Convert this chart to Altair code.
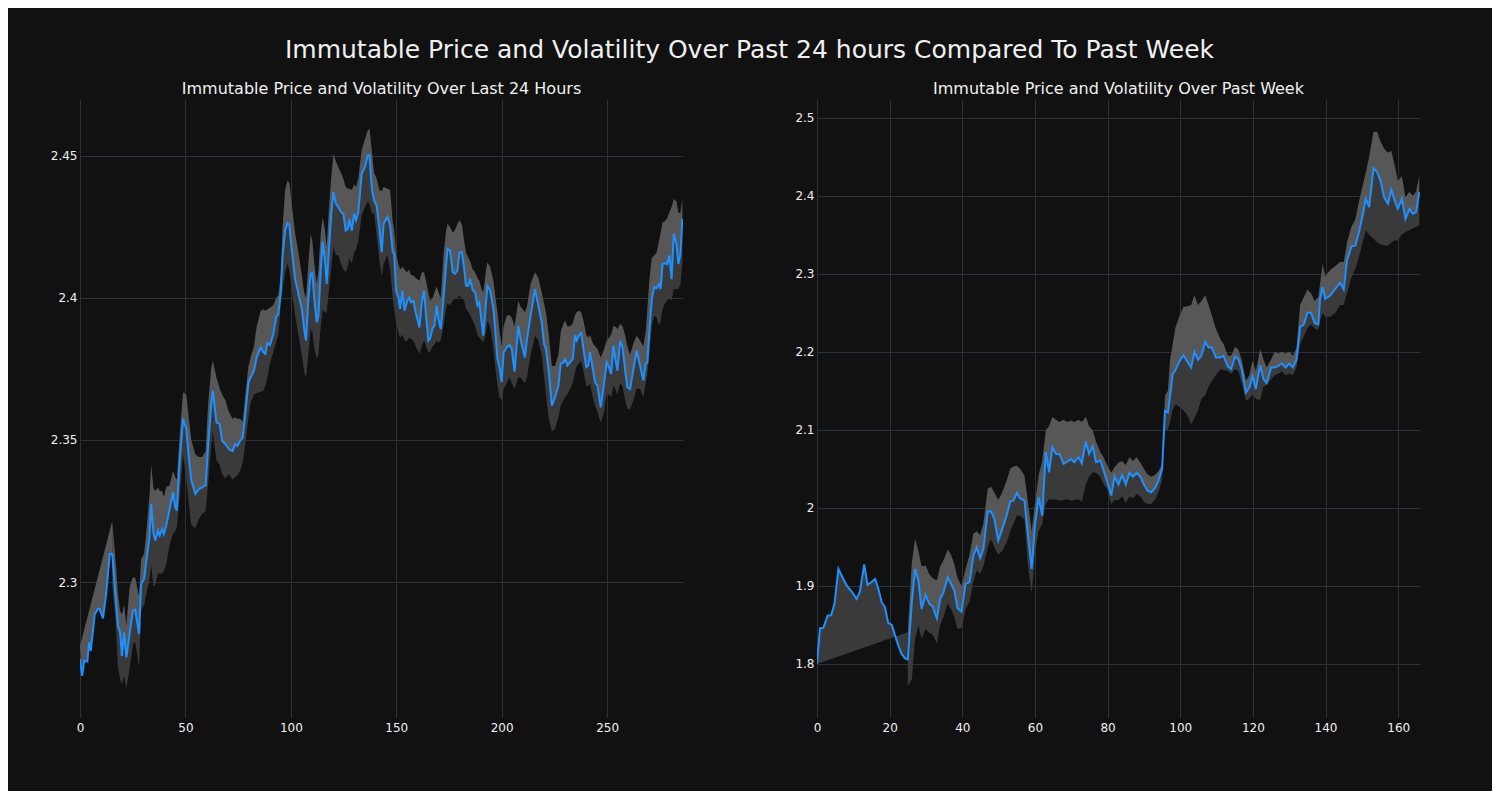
import altair as alt
import pandas as pd

# ---------------- Left panel: last 24 hours ----------------
L_X = [0, 1, 2, 3.5, 4.3, 5.1, 7, 8.5, 9.3, 10.9,
       12.5, 14.1, 15.3, 16.8, 18, 19, 19.9, 20.9, 22, 23.6,
       25.1, 26.2, 28, 29, 30.4, 31.5, 33, 33.8, 34.8, 35.7,
       37, 37.8, 38.9, 39.8, 40.9, 42.5, 44.1, 45.2, 45.9, 47.3,
       48.9, 50.4, 51.7, 52.8, 54.7, 56.3, 57.9, 59.6, 60.7, 62.2,
       63, 64.7, 66.3, 67.4, 69, 70.5, 72.4, 73.5, 74.6, 75.9,
       77.2, 78.3, 79.9, 80.9, 82.5, 83.8, 85.7, 86.9, 87.9, 88.9,
       90.1, 91.7, 93, 94.1, 95.2, 96.1, 97.3, 98.4, 99.3, 100.4,
       102, 103.6, 105.2, 106.3, 107.2, 108.3, 109.4, 110.2, 111, 112.3,
       113.1, 114.2, 115.1, 116.2, 117, 118.1, 119.1, 120.2, 121.4, 122.5,
       123.8, 124.9, 126, 127, 127.8, 128.9, 130, 130.9, 132, 133.6,
       135.2, 136.5, 137.3, 138.4, 139.5, 140.7, 142, 143.1, 144, 145.8,
       147.1, 148.3, 149, 149.9, 151, 151.8, 152.9, 153.9, 155, 156.1,
       157, 158.1, 159.2, 161, 162.1, 163.2, 164.1, 165.2, 166, 167.3,
       168.1, 169.2, 170, 171.1, 172.4, 173.5, 174.3, 175.5, 176.8, 177.9,
       179, 180, 181.1, 182.2, 183.1, 184.2, 185, 186.3, 187.4, 188.5,
       189.4, 190.5, 191.3, 192.6, 193.2, 194.5, 196.1, 196.9, 198, 199,
       200, 200.9, 202.4, 203.7, 204.8, 206.1, 207.9, 208.9, 211, 212,
       213.7, 215.8, 217.4, 219, 220.1, 221, 222.2, 223.8, 225.3, 226.9,
       228, 229.3, 230.1, 231.2, 232.4, 233.7, 234.8, 235.6, 236.7, 237.7,
       238.8, 240.1, 241.1, 241.9, 243.2, 244.3, 245.4, 247, 248.6, 249.8,
       250.9, 251.9, 253, 253.8, 254.9, 256.2, 257.3, 258.5, 259.6, 260.9,
       262.5, 264, 265.6, 267.2, 268.3, 269.1, 270, 271.2, 272.3, 273.5,
       274.6, 275.4, 276.3, 277.4, 278.5, 279.5, 280.6, 281.6, 282.9, 283.8,
       284.8, 285.7]

L_PRICE = [2.2729, 2.2670, 2.2723, 2.2720, 2.2788, 2.2758, 2.2887, 2.2905, 2.2905, 2.2872,
           2.2964, 2.3099, 2.3099, 2.2952, 2.2846, 2.2823, 2.2740, 2.2823, 2.2735, 2.2823,
           2.2900, 2.2903, 2.2817, 2.2993, 2.3011, 2.3075, 2.3163, 2.3275, 2.3175, 2.3146,
           2.3181, 2.3163, 2.3187, 2.3169, 2.3199, 2.3257, 2.3316, 2.3263, 2.3251, 2.3427,
           2.3574, 2.3539, 2.3433, 2.3357, 2.3310, 2.3327, 2.3333, 2.3341, 2.3474, 2.3620,
           2.3674, 2.3562, 2.3556, 2.3497, 2.3485, 2.3468, 2.3461, 2.3485, 2.3479, 2.3496,
           2.3509, 2.3585, 2.3703, 2.3720, 2.3744, 2.3791, 2.3826, 2.3809, 2.3803, 2.3841,
           2.3834, 2.3873, 2.3932, 2.3944, 2.4020, 2.4149, 2.4237, 2.4263, 2.4257, 2.4172,
           2.4067, 2.4014, 2.3961, 2.3891, 2.3850, 2.3996, 2.4085, 2.4088, 2.4008, 2.3914,
           2.3938, 2.4102, 2.4198, 2.4131, 2.4049, 2.4172, 2.4290, 2.4372, 2.4331, 2.4320,
           2.4302, 2.4296, 2.4237, 2.4243, 2.4276, 2.4237, 2.4296, 2.4273, 2.4302, 2.4437,
           2.4461, 2.4502, 2.4502, 2.4384, 2.4343, 2.4325, 2.4243, 2.4160, 2.4261, 2.4285,
           2.4256, 2.4161, 2.4155, 2.4026, 2.4002, 2.3961, 2.4026, 2.3955, 2.3984, 2.4002,
           2.3984, 2.3990, 2.3949, 2.3896, 2.3984, 2.4026, 2.3937, 2.3849, 2.3855, 2.3896,
           2.3902, 2.3973, 2.3926, 2.3890, 2.3996, 2.4102, 2.4173, 2.4167, 2.4090, 2.4085,
           2.4096, 2.4161, 2.4161, 2.4102, 2.4043, 2.4043, 2.4067, 2.4026, 2.4020, 2.3973,
           2.3984, 2.3914, 2.3867, 2.3984, 2.4043, 2.4026, 2.3961, 2.3890, 2.3784, 2.3755,
           2.3704, 2.3808, 2.3826, 2.3834, 2.3820, 2.3740, 2.3902, 2.3855, 2.3790, 2.3855,
           2.3937, 2.4031, 2.3972, 2.3914, 2.3838, 2.3820, 2.3750, 2.3621, 2.3650, 2.3691,
           2.3768, 2.3773, 2.3785, 2.3762, 2.3773, 2.3785, 2.3868, 2.3850, 2.3868, 2.3877,
           2.3820, 2.3756, 2.3762, 2.3809, 2.3750, 2.3703, 2.3691, 2.3615, 2.3703, 2.3773,
           2.3756, 2.3732, 2.3832, 2.3791, 2.3744, 2.3850, 2.3826, 2.3750, 2.3685, 2.3679,
           2.3750, 2.3815, 2.3762, 2.3709, 2.3768, 2.3773, 2.3879, 2.3996, 2.4037, 2.4034,
           2.4049, 2.4031, 2.4119, 2.4122, 2.4119, 2.4149, 2.4066, 2.4225, 2.4190, 2.4119,
           2.4155, 2.4278]

N = None
L_LOW = [N, N, N, N, N, N, N, N, N, N,
         N, N, 2.2990, 2.2870, 2.2700, 2.2660, 2.2640, 2.2670, 2.2625, 2.2700,
         2.2780, 2.2790, 2.2700, 2.2900, 2.2920, 2.2960, 2.3010, 2.3060, 2.2985, 2.2990,
         2.3030, 2.3030, 2.3030, 2.3040, 2.3060, 2.3130, 2.3170, 2.3180, 2.3190, 2.3300,
         2.3450, 2.3360, 2.3270, 2.3200, 2.3190, 2.3220, 2.3240, 2.3250, 2.3340, 2.3480,
         2.3530, 2.3430, 2.3410, 2.3380, 2.3365, 2.3380, 2.3360, 2.3370, 2.3375, 2.3390,
         2.3420, 2.3480, 2.3580, 2.3630, 2.3660, 2.3665, 2.3670, 2.3672, 2.3690, 2.3720,
         2.3770, 2.3810, 2.3845, 2.3870, 2.3974, 2.4030, 2.4090, 2.4120, 2.4100, 2.4030,
         2.3940, 2.3870, 2.3800, 2.3740, 2.3720, 2.3800, 2.3890, 2.3880, 2.3830, 2.3785,
         2.3800, 2.3900, 2.3960, 2.3949, 2.3949, 2.4030, 2.4100, 2.4180, 2.4150, 2.4150,
         2.4120, 2.4100, 2.4090, 2.4110, 2.4140, 2.4120, 2.4160, 2.4170, 2.4200, 2.4290,
         2.4320, 2.4340, 2.4330, 2.4300, 2.4296, 2.4220, 2.4130, 2.4076, 2.4120, 2.4150,
         2.4100, 2.4000, 2.3960, 2.3914, 2.3880, 2.3860, 2.3870, 2.3850, 2.3847, 2.3860,
         2.3855, 2.3850, 2.3830, 2.3803, 2.3830, 2.3850, 2.3830, 2.3808, 2.3810, 2.3830,
         2.3835, 2.3850, 2.3843, 2.3850, 2.3900, 2.3960, 2.3980, 2.3973, 2.3990, 2.4000,
         2.4000, 2.4008, 2.4000, 2.3990, 2.3960, 2.3950, 2.3940, 2.3920, 2.3900, 2.3870,
         2.3860, 2.3850, 2.3843, 2.3880, 2.3920, 2.3900, 2.3820, 2.3760, 2.3690, 2.3650,
         2.3640, 2.3680, 2.3700, 2.3720, 2.3700, 2.3680, 2.3720, 2.3720, 2.3700, 2.3720,
         2.3800, 2.3867, 2.3850, 2.3800, 2.3720, 2.3660, 2.3580, 2.3530, 2.3540, 2.3580,
         2.3620, 2.3640, 2.3650, 2.3660, 2.3680, 2.3700, 2.3740, 2.3760, 2.3770, 2.3780,
         2.3740, 2.3690, 2.3690, 2.3700, 2.3650, 2.3620, 2.3600, 2.3560, 2.3600, 2.3660,
         2.3660, 2.3650, 2.3690, 2.3680, 2.3660, 2.3700, 2.3690, 2.3640, 2.3610, 2.3609,
         2.3640, 2.3680, 2.3680, 2.3650, 2.3700, 2.3730, 2.3800, 2.3900, 2.3937, 2.3930,
         2.3902, 2.3920, 2.3960, 2.3980, 2.3990, 2.4000, 2.3990, 2.4030, 2.4031, 2.4030,
         2.4050, 2.4120]

L_HIGH = [N, N, N, N, N, N, N, N, N, N,
          N, N, 2.3216, 2.3080, 2.2960, 2.2900, 2.2885, 2.2920, 2.2850, 2.2985,
          2.3017, 2.3015, 2.2950, 2.3080, 2.3100, 2.3180, 2.3310, 2.3415, 2.3330, 2.3320,
          2.3333, 2.3320, 2.3320, 2.3300, 2.3335, 2.3340, 2.3392, 2.3370, 2.3360, 2.3520,
          2.3668, 2.3660, 2.3570, 2.3500, 2.3450, 2.3440, 2.3440, 2.3460, 2.3620, 2.3750,
          2.3780, 2.3720, 2.3680, 2.3660, 2.3640, 2.3600, 2.3575, 2.3580, 2.3575, 2.3575,
          2.3565, 2.3650, 2.3760, 2.3790, 2.3830, 2.3900, 2.3955, 2.3960, 2.3955, 2.3960,
          2.3965, 2.3975, 2.4000, 2.4010, 2.4080, 2.4250, 2.4380, 2.4413, 2.4405, 2.4330,
          2.4230, 2.4160, 2.4080, 2.4020, 2.4000, 2.4120, 2.4226, 2.4200, 2.4130, 2.4050,
          2.4100, 2.4230, 2.4284, 2.4240, 2.4180, 2.4320, 2.4420, 2.4507, 2.4480, 2.4460,
          2.4440, 2.4420, 2.4390, 2.4385, 2.4384, 2.4380, 2.4400, 2.4390, 2.4420, 2.4520,
          2.4560, 2.4590, 2.4595, 2.4520, 2.4440, 2.4420, 2.4380, 2.4375, 2.4390, 2.4384,
          2.4380, 2.4270, 2.4240, 2.4160, 2.4120, 2.4100, 2.4110, 2.4100, 2.4090, 2.4100,
          2.4080, 2.4080, 2.4070, 2.4060, 2.4090, 2.4090, 2.4060, 2.4020, 2.3990, 2.4000,
          2.4020, 2.4040, 2.4020, 2.4000, 2.4150, 2.4230, 2.4261, 2.4250, 2.4230, 2.4240,
          2.4260, 2.4273, 2.4260, 2.4200, 2.4160, 2.4140, 2.4130, 2.4100, 2.4090, 2.4070,
          2.4060, 2.4030, 2.4020, 2.4100, 2.4125, 2.4110, 2.4060, 2.4010, 2.3950, 2.3880,
          2.3830, 2.3900, 2.3937, 2.3940, 2.3930, 2.3900, 2.3990, 2.3970, 2.3950, 2.3970,
          2.4050, 2.4090, 2.4070, 2.4020, 2.3980, 2.3950, 2.3880, 2.3760, 2.3760, 2.3800,
          2.3880, 2.3910, 2.3920, 2.3900, 2.3900, 2.3910, 2.3940, 2.3950, 2.3955, 2.3950,
          2.3920, 2.3870, 2.3860, 2.3870, 2.3840, 2.3830, 2.3820, 2.3790, 2.3820, 2.3850,
          2.3860, 2.3870, 2.3900, 2.3900, 2.3890, 2.3908, 2.3900, 2.3870, 2.3830, 2.3800,
          2.3840, 2.3867, 2.3850, 2.3830, 2.3880, 2.3960, 2.4060, 2.4140, 2.4149, 2.4160,
          2.4200, 2.4230, 2.4266, 2.4270, 2.4280, 2.4300, 2.4320, 2.4348, 2.4340, 2.4300,
          2.4300, 2.4350]

# start of the grey wedge drawn before the rolling band exists
L_WEDGE_START = 2.2775
L_BAND_START = 12   # index of first band value

# ---------------- Right panel: past week ----------------
R_X = [0, 0.83, 1.74, 2.94, 3.9, 4.8, 5.9, 7, 8.2, 9.1,
       10, 10.9, 11.8, 13, 13.9, 14.9, 16, 16.9, 17.8, 18.7,
       19.6, 20.6, 21.5, 22.4, 23.3, 24.2, 25, 26.1, 27, 27.9,
       28.8, 29.9, 30.9, 31.8, 33, 33.9, 34.8, 36, 36.9, 37.8,
       38.7, 39.8, 40.9, 42, 43.05, 44, 44.9, 45.8, 47, 47.9,
       48.8, 49.9, 51, 52.2, 53.2, 54.1, 55, 55.9, 57.1, 58,
       59.1, 60, 61, 62, 63, 63.9, 64.8, 65.8, 66.7, 67.9,
       69, 69.9, 70.8, 72, 72.9, 74, 74.9, 75.9, 76.8, 78,
       78.9, 79.8, 81, 81.9, 83, 84, 85, 86, 87, 88,
       89, 90, 91, 92, 93, 94, 95, 95.8, 96.6, 97.2,
       97.9, 98.6, 99.7, 100.9, 101.8, 103, 103.9, 104.9, 105.8, 106.9,
       107.8, 108.7, 109.8, 111, 111.9, 113.1, 114, 115.1, 116, 116.9,
       118.1, 119, 119.9, 120.8, 122, 122.9, 123.8, 125, 126, 127,
       128, 129, 130, 131, 132, 133, 134, 135, 136, 137,
       138, 138.5, 139.2, 139.9, 141.3, 142.7, 144, 145, 145.9, 147.1,
       148.2, 149.1, 150.2, 151.1, 152, 153.2, 154.2, 155.1, 156.2, 157.2,
       158.1, 159, 159.9, 161, 162, 163.1, 164, 164.9, 165.8]

R_PRICE = [1.8000, 1.8458, 1.8462, 1.8620, 1.8624, 1.8769, 1.9218, 1.9111, 1.9004, 1.8953,
           1.8897, 1.8833, 1.8927, 1.9274, 1.9013, 1.9047, 1.9090, 1.8962, 1.8791, 1.8727,
           1.8526, 1.8500, 1.8363, 1.8235, 1.8128, 1.8073, 1.8056, 1.8791, 1.9218, 1.9068,
           1.8705, 1.8885, 1.8769, 1.8739, 1.8585, 1.8833, 1.8918, 1.9111, 1.9025, 1.8940,
           1.8714, 1.8671, 1.9025, 1.9050, 1.9389, 1.9496, 1.9355, 1.9474, 1.9957, 1.9953,
           1.9859, 1.9581, 1.9731, 1.9902, 2.0081, 2.0094, 2.0192, 2.0124, 2.0094, 1.9688,
           1.9218, 1.9774, 2.0137, 1.9902, 2.0714, 2.0457, 2.0778, 2.0692, 2.0692, 2.0564,
           2.0594, 2.0628, 2.0585, 2.0650, 2.0572, 2.0850, 2.0692, 2.0790, 2.0585, 2.0607,
           2.0479, 2.0350, 2.0158, 2.0406, 2.0300, 2.0420, 2.0300, 2.0450, 2.0400, 2.0450,
           2.0400, 2.0300, 2.0220, 2.0200, 2.0250, 2.0350, 2.0500, 2.1244, 2.1222, 2.1436,
           2.1714, 2.1756, 2.1872, 2.1957, 2.1885, 2.1799, 2.2000, 2.1898, 2.1949, 2.2128,
           2.2056, 2.2056, 2.1928, 2.1928, 2.1949, 2.1812, 2.1778, 2.1941, 2.1906, 2.1778,
           2.1479, 2.1543, 2.1692, 2.1521, 2.1829, 2.1650, 2.1598, 2.1800, 2.1800, 2.1820,
           2.1850, 2.1800, 2.1850, 2.1800, 2.1900, 2.2320, 2.2350, 2.2500, 2.2500, 2.2370,
           2.2350, 2.2680, 2.2829, 2.2679, 2.2722, 2.2808, 2.2885, 2.2799, 2.3171, 2.3351,
           2.3363, 2.3513, 2.3748, 2.3962, 2.3855, 2.4355, 2.4304, 2.4197, 2.3970, 2.3897,
           2.4081, 2.3940, 2.3833, 2.3962, 2.3705, 2.3833, 2.3769, 2.3790, 2.4047]

R_LOW = [N, N, N, N, N, N, N, N, N, N,
         N, N, N, N, N, N, N, N, N, N,
         N, N, N, N, N, N, 1.7722, 1.7800, 1.8323, 1.8496,
         1.8323, 1.8449, 1.8400, 1.8380, 1.8261, 1.8500, 1.8600, 1.8773, 1.8700, 1.8600,
         1.8449, 1.8460, 1.8700, 1.8800, 1.9050, 1.9200, 1.9150, 1.9250, 1.9500, 1.9600,
         1.9500, 1.9400, 1.9450, 1.9550, 1.9700, 1.9800, 1.9900, 1.9900, 1.9850, 1.9300,
         1.8900, 1.9400, 1.9700, 1.9800, 2.0050, 2.0115, 2.0100, 2.0110, 2.0090, 2.0100,
         2.0110, 2.0090, 2.0100, 2.0110, 2.0080, 2.0300, 2.0400, 2.0457, 2.0450, 2.0400,
         2.0300, 2.0244, 2.0050, 2.0100, 2.0100, 2.0150, 2.0060, 2.0150, 2.0120, 2.0180,
         2.0150, 2.0080, 2.0050, 2.0050, 2.0100, 2.0200, 2.0350, 2.0987, 2.1000, 2.1100,
         2.1250, 2.1329, 2.1300, 2.1244, 2.1200, 2.1073, 2.1150, 2.1250, 2.1393, 2.1450,
         2.1550, 2.1628, 2.1700, 2.1778, 2.1770, 2.1750, 2.1720, 2.1778, 2.1750, 2.1600,
         2.1372, 2.1400, 2.1450, 2.1400, 2.1380, 2.1550, 2.1580, 2.1650, 2.1700, 2.1720,
         2.1750, 2.1700, 2.1720, 2.1700, 2.1800, 2.2100, 2.2200, 2.2300, 2.2350, 2.2300,
         2.2280, 2.2400, 2.2500, 2.2450, 2.2450, 2.2500, 2.2600, 2.2600, 2.2750, 2.2950,
         2.3064, 2.3200, 2.3400, 2.3556, 2.3500, 2.3450, 2.3400, 2.3380, 2.3363, 2.3363,
         2.3400, 2.3427, 2.3427, 2.3500, 2.3534, 2.3560, 2.3580, 2.3600, 2.3620]

R_HIGH = [N, N, N, N, N, N, N, N, N, N,
          N, N, N, N, N, N, N, N, N, N,
          N, N, N, N, N, N, 1.8406, 1.9300, 1.9603, 1.9450,
          1.9250, 1.9261, 1.9150, 1.9100, 1.9068, 1.9250, 1.9325, 1.9466, 1.9400, 1.9280,
          1.9100, 1.9000, 1.9218, 1.9400, 1.9671, 1.9700, 1.9650, 1.9800, 2.0244, 2.0270,
          2.0200, 2.0100, 2.0200, 2.0350, 2.0500, 2.0530, 2.0540, 2.0500, 2.0415, 2.0100,
          1.9700, 2.0050, 2.0415, 2.0600, 2.0994, 2.1050, 2.1165, 2.1130, 2.1100, 2.1130,
          2.1100, 2.1120, 2.1100, 2.1130, 2.1100, 2.1165, 2.1050, 2.0994, 2.0850, 2.0714,
          2.0650, 2.0550, 2.0450, 2.0520, 2.0580, 2.0600, 2.0550, 2.0650, 2.0600, 2.0650,
          2.0580, 2.0500, 2.0430, 2.0400, 2.0420, 2.0470, 2.0560, 2.1436, 2.1500, 2.1900,
          2.2085, 2.2300, 2.2450, 2.2577, 2.2580, 2.2600, 2.2726, 2.2600, 2.2650, 2.2726,
          2.2600, 2.2466, 2.2300, 2.2167, 2.2100, 2.1953, 2.1950, 2.2064, 2.2030, 2.1900,
          2.1628, 2.1700, 2.1885, 2.1750, 2.2036, 2.1900, 2.1800, 2.1900, 2.2000, 2.1980,
          2.2000, 2.1980, 2.2000, 2.1950, 2.2050, 2.2600, 2.2700, 2.2800, 2.2750, 2.2650,
          2.2700, 2.2880, 2.3128, 2.2970, 2.3050, 2.3100, 2.3150, 2.3150, 2.3400, 2.3600,
          2.3700, 2.3900, 2.4132, 2.4300, 2.4500, 2.4821, 2.4821, 2.4700, 2.4600, 2.4550,
          2.4577, 2.4400, 2.4192, 2.4250, 2.3980, 2.4050, 2.4000, 2.4050, 2.4250]

R_BAND_START = 26

MAIN_TITLE = "Immutable Price and Volatility Over Past 24 hours Compared To Past Week"
LEFT_TITLE = "Immutable Price and Volatility Over Last 24 Hours"
RIGHT_TITLE = "Immutable Price and Volatility Over Past Week"

BG = "#111111"
BLUE = "#1e90ff"
DARK = "#3a3a3a"
LIGHT = "#575757"
GRID = "#2a323c"
TXT = "#f0f0f0"
FONT = "DejaVu Sans"

for a, b in [(L_X, L_PRICE), (L_X, L_LOW), (L_X, L_HIGH), (R_X, R_PRICE), (R_X, R_LOW), (R_X, R_HIGH)]:
    assert len(a) == len(b), (len(a), len(b))


def panel(X, P, LO, HI, wedge_x, wedge_y, wedge_color, xdom, ydom, xvals, yvals, yfmt, title, yext):
    df = pd.DataFrame({"x": X, "p": P, "lo": LO, "hi": HI})
    band = df.dropna().reset_index(drop=True)
    line_df = df[["x", "p"]]
    wedge = pd.DataFrame({"x": wedge_x, "y": wedge_y, "i": list(range(len(wedge_x)))})

    xs = alt.Scale(domain=xdom, nice=False, zero=False)
    ys = alt.Scale(domain=ydom, nice=False, zero=False)
    xax = alt.Axis(values=xvals, title=None, grid=True, gridColor=GRID, gridWidth=1,
                   domain=False, ticks=False, labelColor=TXT, labelFont=FONT,
                   labelFontSize=12, labelPadding=5, labelFlush=False)
    yax = alt.Axis(values=yvals, format=yfmt, title=None, grid=True, gridColor=GRID,
                   gridWidth=1, domain=False, ticks=False, labelColor=TXT, labelFont=FONT,
                   labelFontSize=12, labelPadding=3, minExtent=yext, maxExtent=yext,
                   labelFlush=False)

    lower = alt.Chart(band).mark_area(color=DARK, clip=True).encode(
        x=alt.X("x:Q", scale=xs, axis=xax),
        y=alt.Y("lo:Q", scale=ys, axis=yax),
        y2="p:Q")
    upper = alt.Chart(band).mark_area(color=LIGHT, clip=True).encode(
        x=alt.X("x:Q", scale=xs, axis=xax),
        y=alt.Y("p:Q", scale=ys, axis=yax),
        y2="hi:Q")
    wedge_c = alt.Chart(wedge).mark_line(interpolate="linear-closed", fill=wedge_color,
                                         strokeOpacity=0, clip=True).encode(
        x=alt.X("x:Q", scale=xs, axis=xax),
        y=alt.Y("y:Q", scale=ys, axis=yax),
        order="i:Q")
    line = alt.Chart(line_df).mark_line(color=BLUE, strokeWidth=2, clip=True).encode(
        x=alt.X("x:Q", scale=xs, axis=xax),
        y=alt.Y("p:Q", scale=ys, axis=yax))
    return alt.layer(lower, upper, wedge_c, line).properties(
        width=603, height=618,
        title=alt.TitleParams(title, fontSize=16, color=TXT, font=FONT,
                              fontWeight="normal", anchor="middle", offset=2))


lw_x = [0] + L_X[1:L_BAND_START + 1] + [L_X[L_BAND_START]]
lw_y = [L_WEDGE_START] + L_PRICE[1:L_BAND_START + 1] + [L_HIGH[L_BAND_START]]
rw_x = R_X[:R_BAND_START + 1] + [R_X[R_BAND_START]]
rw_y = R_PRICE[:R_BAND_START + 1] + [R_HIGH[R_BAND_START]]

left = panel(L_X, L_PRICE, L_LOW, L_HIGH, lw_x, lw_y, LIGHT,
             [0, 286], [2.2525, 2.47], [0, 50, 100, 150, 200, 250],
             [2.3, 2.35, 2.4, 2.45], ".2~f", LEFT_TITLE, 67)
right = panel(R_X, R_PRICE, R_LOW, R_HIGH, rw_x, rw_y, DARK,
              [0, 166], [1.732, 2.524], [0, 20, 40, 60, 80, 100, 120, 140, 160],
              [1.8, 1.9, 2.0, 2.1, 2.2, 2.3, 2.4, 2.5], ".1~f", RIGHT_TITLE, 30)

chart = alt.hconcat(left, right, spacing=104).properties(
    title=alt.TitleParams(MAIN_TITLE, fontSize=25, color=TXT, font=FONT,
                          fontWeight="normal", anchor="middle", dx=33, offset=18),
    background=BG,
    padding={"top": 30, "left": 5, "right": 72, "bottom": 58},
).configure_view(stroke=None)

chart.save("out.html", embed_options={"renderer": "svg", "actions": False})
